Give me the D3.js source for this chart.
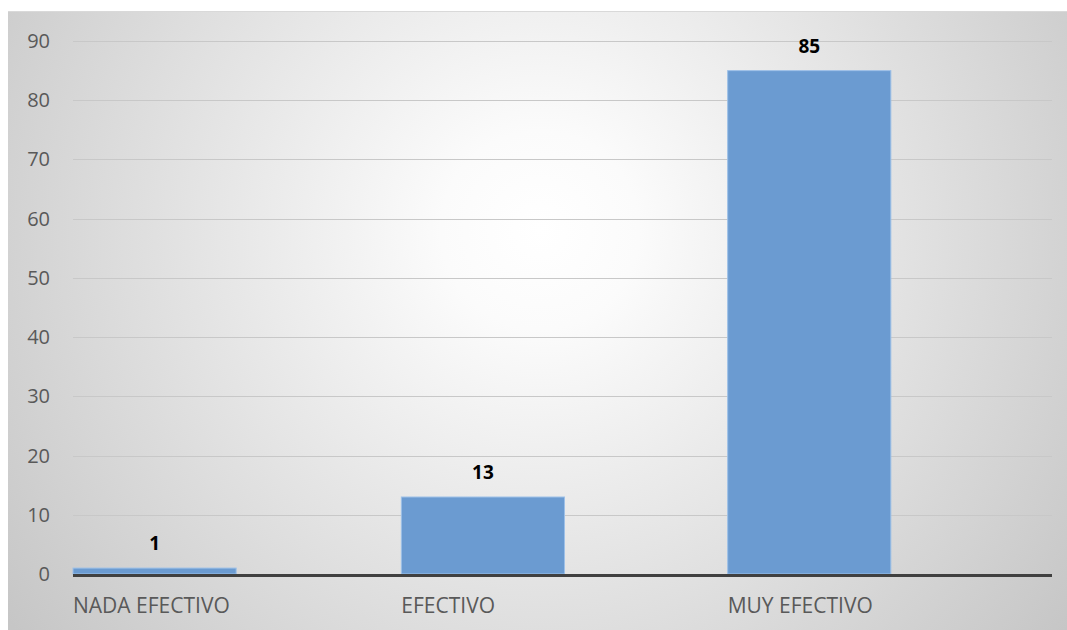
<!DOCTYPE html>
<html>
<head>
<meta charset="utf-8">
<script src="https://cdn.jsdelivr.net/npm/d3@7"></script>
<style>
  html, body { margin: 0; padding: 0; background: #fff; }
  svg { display: block; }
</style>
</head>
<body>
<svg id="svg1"></svg>
<script>
const categories = ["NADA EFECTIVO", "EFECTIVO", "MUY EFECTIVO"];
const values = [1, 13, 85];
const yTicks = [0, 10, 20, 30, 40, 50, 60, 70, 80, 90];

const width = 1067;
const height = 630;
const margin = {top: 41, right: 15, bottom: 56, left: 73};

const svg = d3.select("#svg1")
    .attr("width", width)
    .attr("height", height)
    .style("font-family", "'Open Sans', 'Liberation Sans', sans-serif");

// background gradient, light in the middle, grey at the edges
const defs = svg.append("defs");
const grad = defs.append("radialGradient")
    .attr("id", "bg")
    .attr("gradientUnits", "userSpaceOnUse")
    .attr("cx", 540).attr("cy", 230).attr("r", 660);
grad.append("stop").attr("offset", "0%").attr("stop-color", "#ffffff");
grad.append("stop").attr("offset", "15%").attr("stop-color", "#fbfbfb");
grad.append("stop").attr("offset", "100%").attr("stop-color", "#c6c6c6");

svg.append("rect")
    .attr("x", 8).attr("y", 11)
    .attr("width", width - 8).attr("height", height - 11)
    .attr("fill", "url(#bg)");
svg.append("line")
    .attr("x1", 8).attr("x2", width)
    .attr("y1", 11.5).attr("y2", 11.5)
    .attr("stroke", "#d9d9d9");

const x = d3.scaleBand()
    .domain(categories)
    .range([margin.left, 1052])
    .padding(0);

const y = d3.scaleLinear()
    .domain([0, 90])
    .range([574, margin.top]);

// gridlines
svg.append("g")
    .selectAll("line")
    .data(yTicks.filter(d => d > 0))
    .join("line")
    .attr("x1", margin.left).attr("x2", 1052)
    .attr("y1", d => Math.round(y(d)) + 0.5)
    .attr("y2", d => Math.round(y(d)) + 0.5)
    .attr("stroke", "#c8c8c8")
    .attr("stroke-width", 1);

// y tick labels
svg.append("g")
    .selectAll("text")
    .data(yTicks)
    .join("text")
    .attr("x", 50)
    .attr("y", d => y(d))
    .attr("dy", "0.35em")
    .attr("text-anchor", "end")
    .attr("fill", "#595959")
    .style("font-size", "20px")
    .text(d => d);

const bw = x.bandwidth() / 2;
const bx = (i) => x(categories[i]) + (i === 0 ? 0 : 2);

// bars
svg.append("g")
    .selectAll("rect")
    .data(values)
    .join("rect")
    .attr("x", (d, i) => bx(i))
    .attr("y", d => y(d))
    .attr("width", bw)
    .attr("height", d => y(0) - y(d))
    .attr("fill", "#6b9bd1")
    .attr("stroke", "#9dc0e8")
    .attr("stroke-width", 1);

// axis line
svg.append("line")
    .attr("x1", margin.left).attr("x2", 1052)
    .attr("y1", y(0) + 1.5).attr("y2", y(0) + 1.5)
    .attr("stroke", "#404040")
    .attr("stroke-width", 3);

// value labels
svg.append("g")
    .selectAll("text")
    .data(values)
    .join("text")
    .attr("x", (d, i) => bx(i) + bw / 2)
    .attr("y", d => y(d) - 18)
    .attr("text-anchor", "middle")
    .attr("fill", "#000")
    .style("font-size", "19px")
    .style("font-weight", "bold")
    .text(d => d);

// category labels
svg.append("g")
    .selectAll("text")
    .data(categories)
    .join("text")
    .attr("x", (d, i) => bx(i))
    .attr("y", 613)
    .attr("fill", "#595959")
    .style("font-size", "21px")
    .text(d => d);
</script>
</body>
</html>
